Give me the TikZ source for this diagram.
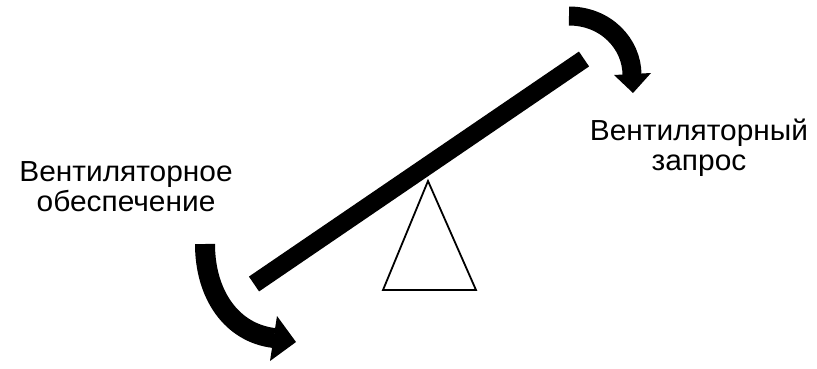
\documentclass[tikz,border=0pt]{standalone}
\usepackage{fontspec}
\setmainfont{Liberation Sans}
\begin{document}
\begin{tikzpicture}[x=1pt,y=-1pt,
  lbl/.style={align=center,font=\fontsize{29}{30}\selectfont,inner sep=0pt,anchor=base,xscale=1.03},
  band/.style={line width=19pt,line cap=butt},
  head/.style={fill=black,draw=none}]
\useasboundingbox (0,0) rectangle (817,368);
% beam
\coordinate (b1) at (254,284);
\coordinate (b2) at (584,59);
\draw[line width=18pt] (b1) -- (b2);
% fulcrum
\coordinate (t1) at (428,181);
\coordinate (t2) at (383,290);
\coordinate (t3) at (476,290);
\draw[line width=1.8pt,line join=miter] (t1) -- (t2) -- (t3) -- cycle;
% top-right arrow
\coordinate (a1) at (569,16);
\coordinate (a2) at (632,75);
\draw[band] (a1) .. controls (606,16) and (632,44) .. (a2);
\coordinate (h1) at (614,75);
\coordinate (h2) at (651,73);
\coordinate (h3) at (633,93);
\fill[head] (h1) -- (h2) -- (h3) -- cycle;
% bottom-left arrow
\coordinate (c1) at (205,244);
\coordinate (c2) at (274,338);
\draw[band,line width=20pt] (c1) .. controls (205,295) and (232,333) .. (c2);
\coordinate (g1) at (277,316);
\coordinate (g2) at (270,361);
\coordinate (g3) at (296,342);
\fill[head] (g1) -- (g2) -- (g3) -- cycle;
% labels
\node[lbl] (l) at (126,211) {Вентиляторное\\обеспечение};
\node[lbl] (r) at (699,170) {Вентиляторный\\запрос};
\end{tikzpicture}
\end{document}
